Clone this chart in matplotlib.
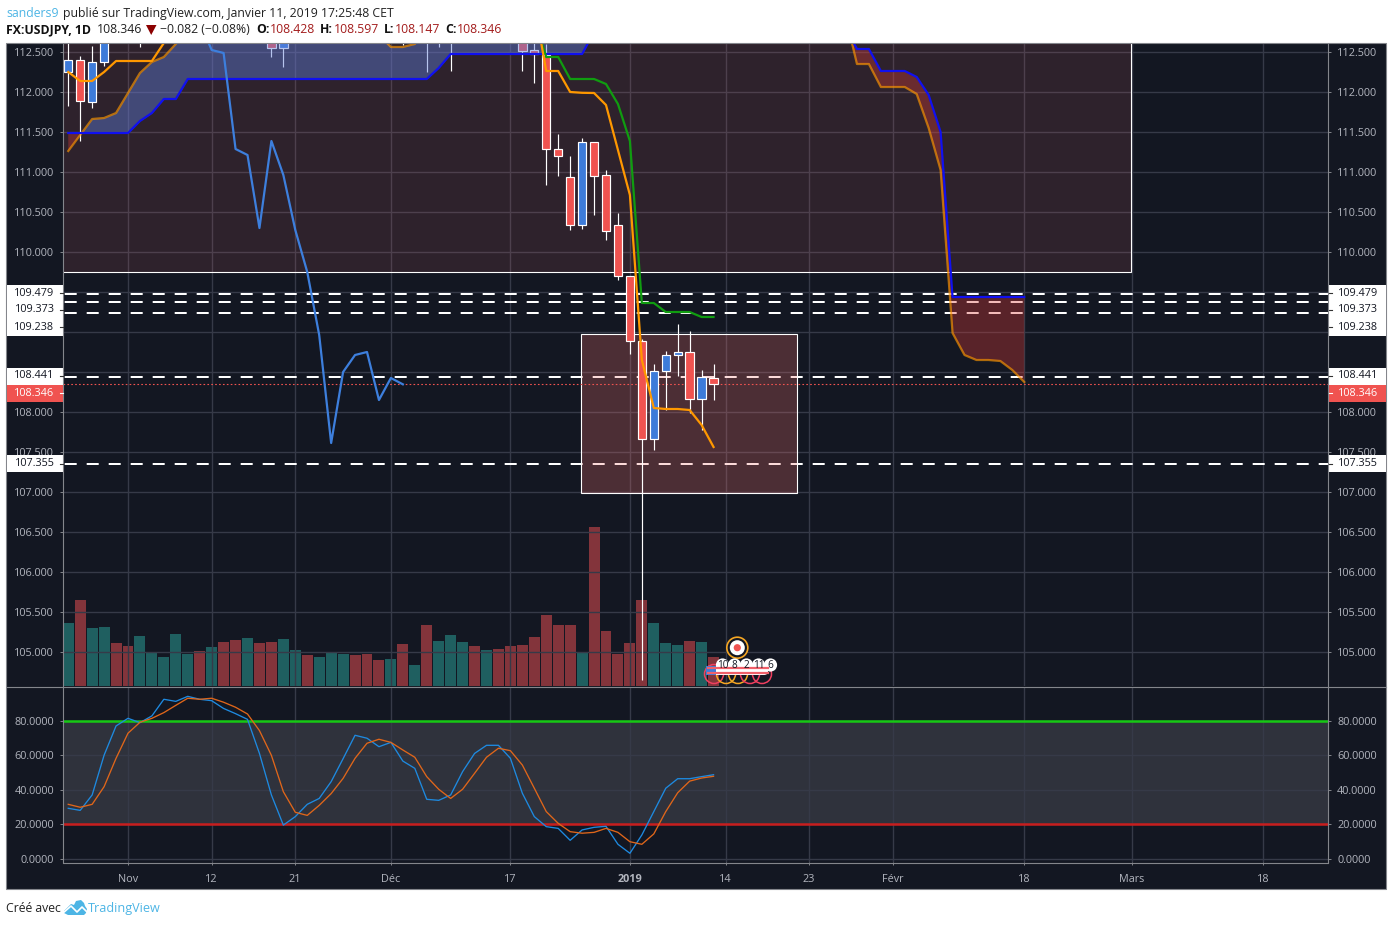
import matplotlib
matplotlib.use('Agg')
import matplotlib.pyplot as plt
import numpy as np
from matplotlib.patches import Rectangle, Circle, Polygon, FancyBboxPatch

W, H = 1392, 926
bg_color = '#131722'
grid_color = '#363a48'
axis_color = '#84868c'
text_color = '#b2b5be'
red = '#f05350'
blue = '#3d7bd9'
axis_font = 7.8

plt.rcParams['font.family'] = ['Open Sans', 'DejaVu Sans']

# x positions are trading days counted from 1 Nov
x_ticks = [0, 7, 14, 22, 32, 42, 50, 57, 64, 75, 84, 95]
x_labels = ['Nov', '12', '21', 'Déc', '17', '2019', '14', '23', 'Févr', '18', 'Mars', '18']

# candles that show inside the window
candle_x = [-5, -4, -3, -2, 1, 12, 13, 23, 25, 26, 27, 33, 34, 35, 36, 37, 38, 39, 40, 41, 42, 43, 44, 45, 46, 47, 48, 49]
opens = [112.25, 112.40, 111.875, 112.375, 112.9, 112.9, 112.555, 112.9, 112.9, 112.9, 112.9, 112.8, 112.52, 112.46,
         111.2875, 110.9375, 110.3375, 111.375, 110.9625, 110.3375, 109.70, 108.8875, 107.6625, 108.5125, 108.7125,
         108.75, 108.1625, 108.428]
highs = [112.75, 112.45, 112.575, 113.0, 113.1, 113.0, 113.0, 113.1, 113.1, 113.1, 113.1, 113.0, 112.7, 112.6,
         111.475, 111.2, 111.425, 111.375, 111.025, 110.4875, 109.70, 108.9125, 108.60, 108.7625, 109.10,
         109.0125, 108.525, 108.597]
lows = [111.825, 111.39, 111.80, 112.325, 112.56, 112.44, 112.31, 112.59, 112.25, 112.56, 112.26, 112.266, 112.11, 110.8375,
        110.95, 110.275, 110.2875, 110.4625, 110.15, 109.65, 108.725, 104.65, 107.525, 108.025, 108.45,
        107.9875, 107.775, 108.147]
closes = [112.40, 111.89, 112.375, 112.85, 113.0, 112.555, 112.9, 112.8, 112.8, 112.8, 112.8, 112.516, 112.475, 111.2875,
          111.2, 110.3375, 111.375, 110.95, 110.2625, 109.70, 108.8875, 107.6625, 108.5125, 108.7125, 108.75,
          108.1625, 108.4375, 108.346]

# volume, read as bar height in pixels of the pane
vol_x = list(range(-5, 50))
vol = [63, 86, 58, 59, 43, 40, 50, 33, 29, 52, 32, 35, 39, 44, 46, 48, 43, 44, 47, 36, 31, 29, 34, 32, 31, 32, 26, 27,
       42, 21, 61, 45, 51, 44, 40, 36, 37, 40, 41, 49, 71, 61, 61, 33, 159, 55, 32, 43, 86, 63, 43, 41, 45, 44, 29]
vol_up = [1, 0, 1, 1, 0, 0, 1, 1, 1, 1, 1, 0, 1, 0, 0, 1, 0, 0, 1, 1, 0, 1, 1, 1, 0, 0, 0, 1,
          0, 1, 0, 1, 1, 1, 0, 1, 0, 0, 0, 0, 0, 0, 0, 1, 0, 0, 0, 0, 0, 1, 1, 1, 0, 1, 0]

# ichimoku cloud, -5 to 75, values above the window are rough
cloud_x = list(range(-5, 76))
span_a = [111.2625, 111.4625, 111.6625, 111.675, 111.7375, 111.9875, 112.2375, 112.375, 112.4375, 112.6,
          112.775, 113.0, 113.1, 113.2, 113.25, 113.3, 113.3, 113.25, 113.2, 113.2,
          113.1, 113.0, 113.0, 112.95, 112.9, 112.85,
          112.7125, 112.5625, 112.5625, 112.6,
          112.775, 112.9, 113.0, 113.1, 113.2, 113.3, 113.4, 113.5, 113.6, 113.7,
          113.7, 113.7, 113.7, 113.7, 113.7, 113.7, 113.7, 113.6, 113.6, 113.5,
          113.5, 113.5, 113.4, 113.4, 113.3, 113.3, 113.3, 113.2, 113.2, 113.2,
          113.2, 113.15, 113.1, 113.1, 113.05,
          112.975, 112.35, 112.35, 112.0625, 112.0625, 112.0625, 111.975, 111.55, 111.025,
          108.9875, 108.7125, 108.65, 108.65, 108.6375, 108.525, 108.375]
span_b = [111.4875, 111.4875, 111.4875, 111.4875, 111.4875, 111.4875, 111.6375, 111.7375, 111.9125, 111.9125,
          112.1625, 112.1625, 112.1625, 112.1625, 112.1625, 112.1625, 112.1625, 112.1625, 112.1625, 112.1625,
          112.1625, 112.1625, 112.1625, 112.1625, 112.1625, 112.1625, 112.1625, 112.1625, 112.1625, 112.1625,
          112.1625, 112.30, 112.475, 112.475, 112.475, 112.475, 112.475, 112.475, 112.475, 112.475,
          112.475, 112.475, 112.475, 112.475, 112.75,
          113.0, 113.1, 113.2, 113.2, 113.2, 113.2, 113.2, 113.2, 113.2, 113.2,
          113.2, 113.2, 113.2, 113.2, 113.1, 113.0, 113.0, 113.0, 112.9, 112.9,
          112.825, 112.5375, 112.5375, 112.2625, 112.2625, 112.2625, 112.1875, 111.9625, 111.5,
          109.4375, 109.4375, 109.4375, 109.4375, 109.4375, 109.4375, 109.4375]

# orange and green lines, and the lagging span
orange_x = [-5, -4, -3, -2, -1, 0, 1, 2, 3, 4]
orange_y = [112.25, 112.1375, 112.1375, 112.25, 112.3875, 112.3875, 112.3875, 112.3875, 112.6125, 113.0]
orange2_x = [34, 35, 36, 37, 38, 39, 40, 41, 42, 43, 44, 45, 46, 47, 48, 49]
orange2_y = [113.09, 112.2625, 112.2625, 112.0, 111.99, 111.9875, 111.8375, 111.275, 110.7125, 108.65, 108.05,
             108.0375, 108.0375, 108.025, 107.8375, 107.5625]
green_x = [34, 35, 36, 37, 38, 39, 40, 41, 42, 43, 44, 45, 46, 47, 48, 49]
green_y = [112.9, 112.4375, 112.4375, 112.1625, 112.1625, 112.1625, 112.1, 111.85, 111.3875, 109.3625, 109.3625,
           109.25, 109.25, 109.25, 109.1875, 109.1875]
lag_x = list(range(6, 24))
lag_y = [112.875, 112.525, 112.4875, 111.2875, 111.2125, 110.3, 111.3875, 110.9625, 110.275, 109.75, 108.9625,
         107.6125, 108.5, 108.7125, 108.75, 108.15, 108.425, 108.346]

# stochastic
stoch_x = list(range(-5, 50))
stoch_k = [29.3, 28.1, 37, 60, 76.9, 81.3, 78.8, 82.7, 92.3, 91.1, 94, 92.3, 91.5, 87, 84, 80.7, 61, 37, 19.6, 24.5,
           31.6, 35, 44.7, 58, 71.5, 69.8, 64.9, 67.4, 56.6, 52.4, 34.5, 33.9, 37, 50.5, 61, 65.7, 65.7, 58.2, 38,
           24.5, 18.7, 17.7, 10.8, 16.8, 18.3, 18.9, 8.5, 3.3, 13.9, 27.4, 40.9, 46.4, 46.4, 47.6, 48.7]
stoch_d = [31.6, 29.9, 31.6, 41.8, 58.2, 72.7, 79, 81.3, 84.6, 88.8, 92.9, 92.3, 92.9, 90.6, 87.7, 83.8, 74.2, 59.9,
           38.9, 27, 25.2, 31, 37.8, 46.6, 58.2, 66.9, 69.2, 67.4, 63, 58.8, 47.6, 40.3, 35, 40.3, 49.5, 58.8, 64,
           62.6, 54.3, 40.9, 27.4, 20.6, 15.8, 14.9, 15.4, 17.7, 15.4, 10, 8.5, 14.5, 27.4, 38.3, 45, 46.8, 47.8]

# price levels
level_dashed = [109.479, 109.373, 109.238, 108.441, 107.355]
last_price = 108.346

fig = plt.figure(figsize=(W / 100, H / 100), dpi=100, facecolor='white')


def pane(left, top, right, bottom, z):
    a = fig.add_axes([left / W, 1 - bottom / H, (right - left) / W, (bottom - top) / H])
    a.set_zorder(z)
    return a


# pixel layers for the frame and the label boxes
base = pane(0, 0, W, H, 0)
base.set_xlim(0, W)
base.set_ylim(H, 0)
base.axis('off')
base.add_patch(Rectangle((6, 43), 1380, 846, facecolor=bg_color, edgecolor=axis_color, lw=0.8))

left_px, right_px = 63, 1328
x0 = (left_px - 128) / 11.95
x1 = (right_px - 128) / 11.95

ax_vol = pane(left_px, 44, right_px, 686, 1)
ax = pane(left_px, 44, right_px, 686, 2)
ax_st = pane(left_px, 687, right_px, 862, 2)

# volume
ax_vol.bar(vol_x, vol, width=0.92, color=['#1f5f60' if u else '#83343b' for u in vol_up])
ax_vol.set_xlim(x0, x1)
ax_vol.set_ylim(0, 642)
ax_vol.axis('off')

# price pane, the labels behind the boxes stay blank
ax.patch.set_visible(False)
ax.set_xlim(x0, x1)
ax.set_ylim(104.575, 112.6)
price_ticks = np.arange(105, 113, 0.5)
ax.set_yticks(price_ticks)
ax.set_yticklabels(['' if v in (109.5, 109.0, 108.5) else f'{v:.3f}' for v in price_ticks])
ax.set_xticks(x_ticks)
ax.grid(True, color=grid_color, lw=1, zorder=1)
ax.set_axisbelow(True)
ax.tick_params(axis='x', length=0, labelbottom=False)
ax.tick_params(axis='y', left=True, right=True, labelleft=True, labelright=True, length=2.5, width=0.7,
               color=axis_color, labelcolor=text_color, labelsize=axis_font, pad=4)
for s in ax.spines.values():
    s.set_visible(False)

for p in level_dashed:
    ax.axhline(p, color='white', lw=1.44, ls=(10.15, (6, 5)), zorder=1.5)

ax.add_patch(Rectangle((-10, 109.75), 93.9, 6, facecolor=(0.95, 0.435, 0.447, 0.125), edgecolor='white', lw=0.8, zorder=2))
ax.add_patch(Rectangle((37.9, 106.9875), 18.05, 1.9875, facecolor=(0.95, 0.45, 0.435, 0.26), edgecolor='white', lw=0.8, zorder=2))
ax.axhline(last_price, color=red, lw=0.8, ls=(0, (1.5, 2)), zorder=2.5)

# candles
ax.vlines(candle_x, lows, highs, color='white', lw=0.85, zorder=3)
body_colors = [blue if c >= o else red for o, c in zip(opens, closes)]
ax.bar(candle_x, np.array(closes) - np.array(opens), bottom=opens, width=0.7, color=body_colors,
       edgecolor='white', lw=0.85, zorder=3.2)

# cloud
a_arr = np.array(span_a)
b_arr = np.array(span_b)
ax.fill_between(cloud_x, a_arr, b_arr, where=a_arr >= b_arr, interpolate=True, color='#5c7bd9', alpha=0.44, lw=0, zorder=4)
ax.fill_between(cloud_x, a_arr, b_arr, where=a_arr <= b_arr, interpolate=True, color='#dc3c37', alpha=0.35, lw=0, zorder=4)
ax.plot(cloud_x, span_a, color='#ff9800', alpha=0.65, lw=1.6, zorder=4.5)
ax.plot(cloud_x, span_b, color='#1010f0', lw=1.6, zorder=4.5)

ax.plot(lag_x, lag_y, color='#3d7fdd', lw=1.6, zorder=5)
ax.plot(green_x, green_y, color='#109c10', lw=1.6, zorder=5)
ax.plot(orange_x, orange_y, color='#ff9800', lw=1.6, zorder=5)
ax.plot(orange2_x, orange2_y, color='#ff9800', lw=1.6, zorder=5)

# stochastic pane
ax_st.set_facecolor('none')
ax_st.set_xlim(x0, x1)
ax_st.set_ylim(-1.73, 99.4)
ax_st.axhspan(20, 80, color='#2f323c', lw=0, zorder=0.5)
ax_st.set_yticks([0, 20, 40, 60, 80])
ax_st.set_yticklabels(['0.0000', '20.0000', '40.0000', '60.0000', '80.0000'])
ax_st.set_xticks(x_ticks)
ax_st.set_xticklabels(x_labels)
ax_st.get_xticklabels()[5].set_fontweight('bold')
ax_st.grid(True, color=grid_color, lw=1, zorder=1)
ax_st.set_axisbelow(True)
ax_st.tick_params(axis='y', left=True, right=True, labelleft=True, labelright=True, length=2.5, width=0.7,
                  color=axis_color, labelcolor=text_color, labelsize=axis_font, pad=4)
ax_st.tick_params(axis='x', length=2.5, width=0.7, color=axis_color, labelcolor=text_color, labelsize=axis_font, pad=6.2)
for s in ax_st.spines.values():
    s.set_visible(False)
ax_st.axhline(80, color='#17c814', lw=1.8, zorder=2)
ax_st.axhline(20, color='#c81e1e', lw=1.8, zorder=2)
ax_st.plot(stoch_x, stoch_k, color='#1e8ae0', lw=0.95, zorder=3)
ax_st.plot(stoch_x, stoch_d, color='#e0661a', lw=0.95, zorder=3)

# top layer, all in pixels
ov = pane(0, 0, W, H, 10)
ov.set_xlim(0, W)
ov.set_ylim(H, 0)
ov.axis('off')
ov.patch.set_visible(False)

ov.plot([63, 63], [44, 862], color=axis_color, lw=0.8)
ov.plot([1328, 1328], [44, 862], color=axis_color, lw=0.8)
ov.plot([6.5, 1385.5], [686.5, 686.5], color=axis_color, lw=0.8)
ov.plot([63, 1328], [862.5, 862.5], color=axis_color, lw=0.8)

# price label boxes on both sides
label_rows = [('109.479', 293), ('109.373', 310), ('109.238', 327), ('108.441', 376), ('107.355', 463.5)]
ov.add_patch(Rectangle((6.5, 285), 56, 51, fc='white', ec='none'))
ov.add_patch(Rectangle((1328.5, 285), 57, 51, fc='white', ec='none'))
ov.add_patch(Rectangle((6.5, 368), 56, 16.5, fc='white', ec='none'))
ov.add_patch(Rectangle((1328.5, 368), 57, 16.5, fc='white', ec='none'))
ov.add_patch(Rectangle((6.5, 455), 56, 16.5, fc='white', ec='none'))
ov.add_patch(Rectangle((1328.5, 455), 57, 16.5, fc='white', ec='none'))
ov.add_patch(Rectangle((6.5, 384.7), 56, 17, fc=red, ec='none'))
ov.add_patch(Rectangle((1328.5, 384.7), 57, 17, fc=red, ec='none'))
for txt, yy in label_rows:
    ov.text(54.5, yy, txt, ha='right', va='center', fontsize=axis_font, color='#131722')
    ov.text(1338, yy, txt, ha='left', va='center', fontsize=axis_font, color='#131722')
    ov.plot([59.5, 62.5], [yy, yy], color='#333333', lw=0.8)
    ov.plot([1328.5, 1331.5], [yy, yy], color='#333333', lw=0.8)
ov.text(54.5, 393, '108.346', ha='right', va='center', fontsize=axis_font, color='white')
ov.text(1338, 393, '108.346', ha='left', va='center', fontsize=axis_font, color='white')
ov.plot([59.5, 62.5], [393, 393], color='white', lw=0.8)
ov.plot([1328.5, 1331.5], [393, 393], color='white', lw=0.8)

# header
head_blue = '#4db5e5'
dark_red = '#a31c1c'
ov.text(6, 13.5, 'sanders9', color=head_blue, fontsize=8.8, va='center')
ov.text(63, 13.5, 'publié sur TradingView.com, Janvier 11, 2019 17:25:48 CET', color='#222222', fontsize=8.8, va='center')
ov.text(6, 29.5, 'FX:USDJPY, 1D', color='#111111', fontsize=8.8, fontweight='bold', va='center')
ov.text(97, 29.5, '108.346', color='#222222', fontsize=8.8, va='center')
ov.add_patch(Polygon([(146, 25), (156.5, 25), (151.2, 35)], fc='#8b0000', ec='none'))
ov.text(160, 29.5, '−0.082 (−0.08%)', color='#222222', fontsize=8.8, va='center')
for lab, lx, val, vx in [('O:', 256, '108.428', 270), ('H:', 320, '108.597', 334), ('L:', 384, '108.147', 395), ('C:', 445, '108.346', 457)]:
    ov.text(lx, 29.5, lab, color='#111111', fontsize=8.8, fontweight='bold', va='center')
    ov.text(vx, 29.5, val, color=dark_red, fontsize=8.8, va='center')

# footer with the little cloud logo
ov.text(6, 908, 'Créé avec', color='#222222', fontsize=8.8, va='center')
ov.text(88, 908.5, 'TradingView', color=head_blue, fontsize=9.1, va='center')
ov.add_patch(Polygon([(64, 911), (71, 904), (74, 905), (76, 901), (81, 900), (84, 903), (85, 906), (87, 909), (86, 913),
                      (84, 915), (68, 915), (64, 913)], fc=head_blue, ec='none'))
ov.plot([63, 71, 77, 82, 88], [913, 906, 912, 907, 913], color='white', lw=1.2)

# events over the last bars
ov.add_patch(Circle((737.3, 647.7), 10.5, fc=bg_color, ec='#f5a623', lw=1.2))
ov.add_patch(Circle((737.3, 647.7), 7.5, fc='white', ec='none'))
ov.add_patch(Circle((737.3, 647.7), 3.6, fc=red, ec='none'))
for cx, col in [(714, '#ef3f5f'), (726, '#f5a623'), (738, '#f5a623'), (750, '#ef3f5f'), (762, '#ef3f5f')]:
    ov.add_patch(Circle((cx, 674), 9.5, fc='none', ec=col, lw=1.1))
ov.add_patch(FancyBboxPatch((708, 666), 60, 9, boxstyle='round,pad=0,rounding_size=4', fc='white', ec='none'))
for yy in [668, 672.5]:
    ov.plot([708, 768], [yy, yy], color='#f0606a', lw=1.6)
ov.add_patch(Rectangle((705.5, 665.5), 10, 9, fc='#3d7bd9', ec='none'))
for cx, txt in [(722.5, '10'), (734.5, '8'), (746.5, '2'), (758.5, '11'), (770.5, '6')]:
    ov.add_patch(Circle((cx, 665), 6.6, fc='white', ec='none'))
    ov.text(cx, 665, txt, ha='center', va='center', fontsize=7.2, color='#131722')

fig.savefig('out.png', dpi=100, facecolor='white')
